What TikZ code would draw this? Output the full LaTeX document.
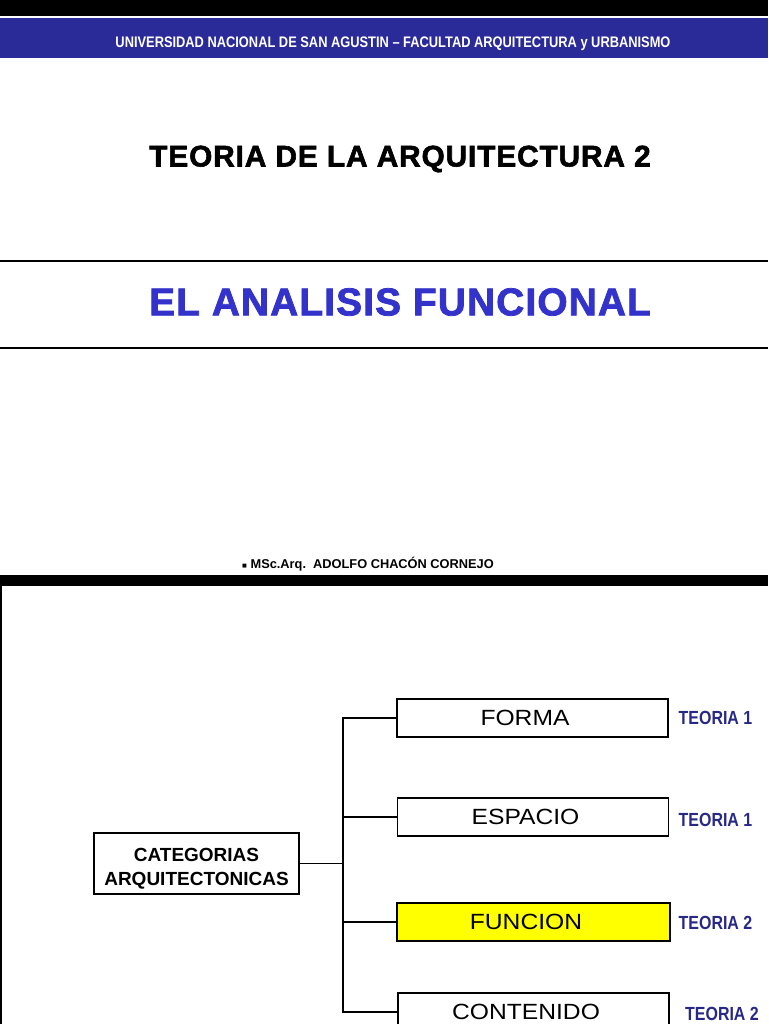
\documentclass[tikz,border=0pt]{standalone}
\usepackage{fontspec}
\setmainfont{Liberation Sans}
\newfontfamily\narrowfont[FakeStretch=0.84]{Liberation Sans}
\newfontfamily\widefont[FakeStretch=1.12]{Liberation Sans}
\newfontfamily\heavyfont[FakeBold=2,LetterSpace=3]{Liberation Sans}
\usepackage{tikz}
\usetikzlibrary{positioning,calc}
\definecolor{bandblue}{RGB}{42,42,153}
\definecolor{titleblue}{RGB}{51,51,204}
\definecolor{labelblue}{RGB}{40,40,135}
\definecolor{hiyellow}{RGB}{255,255,0}

\begin{document}
\begin{tikzpicture}[x=1pt, y=-1pt,
  cat/.style={draw, line width=1.4pt, minimum width=271pt, minimum height=38pt, inner sep=0pt,
    font=\widefont\fontsize{22}{24}\selectfont, execute at end node={\hspace*{15pt}}},
  teo/.style={text=labelblue, inner sep=0pt, font=\narrowfont\bfseries\fontsize{19}{21}\selectfont},
  rule/.style={line width=2pt, black},
  lnk/.style={line width=1.6pt}
]
\useasboundingbox (0,0) rectangle (768,1024);
\clip (0,0) rectangle (768,1024);
% slide 1: header bands
\fill[black] (0,0) rectangle (768,16);
\fill[bandblue] (0,18) rectangle (768,58);
\node[text=white, inner sep=0pt, font=\narrowfont\bfseries\fontsize{15.3}{17}\selectfont] (uni) at (393,44)
  {UNIVERSIDAD NACIONAL DE SAN AGUSTIN – FACULTAD ARQUITECTURA y URBANISMO};
\node[inner sep=0pt, font=\heavyfont\bfseries\fontsize{29.8}{32}\selectfont] (course) at (400,159)
  {TEORIA DE LA ARQUITECTURA 2};
\draw[rule] (0,261) -- (768,261);
\node[text=titleblue, inner sep=0pt, font=\heavyfont\bfseries\fontsize{38.8}{42}\selectfont] (topic) at (400,302)
  {EL ANALISIS FUNCIONAL};
\draw[rule] (0,348) -- (768,348);
\node[inner sep=0pt, font=\bfseries\fontsize{12.8}{14}\selectfont] (author) at (368,564)
  {{\fontsize{8}{8}\selectfont ■} MSc.Arq.\ \ ADOLFO CHACÓN CORNEJO};
% slide 2: frame
\fill[black] (0,575) rectangle (768,586);
\draw[line width=1.5pt] (0.75,586) -- (0.75,1024);
% diagram
\node[draw, line width=1.4pt, minimum width=205pt, minimum height=61pt, inner sep=0pt, align=center,
  font=\bfseries\fontsize{19}{24}\selectfont] (categ) at (196.5,863.5) {\rule{0pt}{24pt}CATEGORIAS\\ARQUITECTONICAS};
\node[cat] (forma) at (532.5,718) {FORMA};
\node[cat] (espacio) at (533,817) {ESPACIO};
\node[cat, fill=hiyellow, minimum width=273pt] (funcion) at (533.5,922) {FUNCION};
\node[cat] (contenido) at (533.5,1012) {CONTENIDO};
\node[teo] (t1) at (715.5,718) {TEORIA 1};
\node[teo] (t2) at (715.5,820) {TEORIA 1};
\node[teo] (t3) at (715.5,923) {TEORIA 2};
\node[teo] (t4) at (722,1014) {TEORIA 2};
\coordinate (trunk) at ($(categ.east)+(43,0)$);
\draw[lnk] (categ.east) -- (trunk);
\draw[lnk] (forma.west) -- (forma.west -| trunk) -- (contenido.west -| trunk) -- (contenido.west);
\foreach \n in {espacio,funcion} \draw[lnk] (\n.west -| trunk) -- (\n.west);
\end{tikzpicture}
\end{document}
